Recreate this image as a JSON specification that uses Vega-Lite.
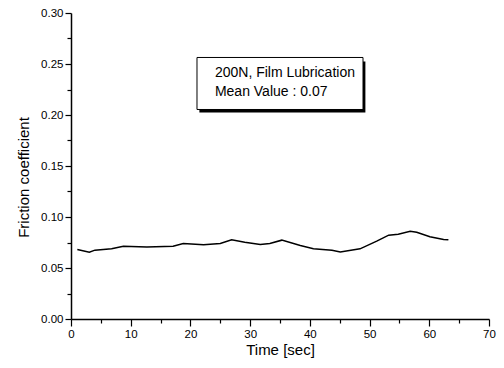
{
  "$schema": "https://vega.github.io/schema/vega-lite/v6.json",
  "width": 418,
  "height": 306,
  "autosize": {"type": "none"},
  "padding": {"left": 71, "top": 13, "right": 15, "bottom": 49},
  "background": "white",
  "config": {
    "view": {"stroke": null},
    "font": "Liberation Sans",
    "axis": {"grid": false, "domainColor": "black", "tickColor": "black", "labelColor": "black", "titleColor": "black", "domainWidth": 1.5, "tickWidth": 1.2}
  },
  "datasets": {
    "curve": [
      {"t": 1.06, "f": 0.0681}, {"t": 3.07, "f": 0.0655}, {"t": 4.0, "f": 0.0675},
      {"t": 6.8, "f": 0.0688}, {"t": 8.77, "f": 0.0714}, {"t": 12.7, "f": 0.0707},
      {"t": 17.1, "f": 0.0714}, {"t": 18.8, "f": 0.074}, {"t": 22.2, "f": 0.0727},
      {"t": 25.0, "f": 0.074}, {"t": 26.9, "f": 0.0776}, {"t": 29.1, "f": 0.0753},
      {"t": 31.7, "f": 0.073}, {"t": 33.3, "f": 0.074}, {"t": 35.3, "f": 0.0773},
      {"t": 38.4, "f": 0.072}, {"t": 40.6, "f": 0.0688}, {"t": 43.7, "f": 0.0675},
      {"t": 45.1, "f": 0.0658}, {"t": 48.4, "f": 0.0688}, {"t": 51.2, "f": 0.0763},
      {"t": 53.2, "f": 0.0822}, {"t": 54.8, "f": 0.0832}, {"t": 56.8, "f": 0.0861},
      {"t": 57.9, "f": 0.0851}, {"t": 60.1, "f": 0.0806}, {"t": 62.4, "f": 0.078},
      {"t": 63.2, "f": 0.0776}
    ],
    "box": [{"x1": 21.1, "x2": 48.9, "y1": 0.2564, "y2": 0.2054}],
    "shadow": [{"x1": 21.5, "x2": 49.3, "y1": 0.2524, "y2": 0.2024}],
    "labels": [
      {"x": 24.1, "y": 0.2368, "text": "200N, Film Lubrication"},
      {"x": 24.1, "y": 0.219, "text": "Mean Value : 0.07"}
    ]
  },
  "layer": [
    {
      "data": {"name": "curve"},
      "mark": {"type": "line", "color": "black", "strokeWidth": 1.5},
      "encoding": {
        "x": {"field": "t", "type": "quantitative", "scale": {"domain": [0, 70], "nice": false, "zero": false},
              "axis": {"orient": "bottom", "values": [0, 10, 20, 30, 40, 50, 60, 70], "title": "Time [sec]", "titleFontSize": 15, "titleFontWeight": "normal", "titlePadding": 3, "labelFontSize": 11.5, "tickSize": 7, "labelPadding": 2, "labelFlush": false}},
        "y": {"field": "f", "type": "quantitative", "scale": {"domain": [0, 0.3], "nice": false},
              "axis": {"orient": "left", "values": [0, 0.05, 0.1, 0.15, 0.2, 0.25, 0.3], "format": ".2f", "title": "Friction coefficient", "titleFontSize": 15, "titleFontWeight": "normal", "titlePadding": 9, "labelFontSize": 11.5, "tickSize": 6, "labelPadding": 2, "titleY": 164}}
      }
    },
    {
      "data": {"name": "shadow"},
      "mark": {"type": "rect", "fill": "black"},
      "encoding": {
        "x": {"field": "x1", "type": "quantitative",
              "axis": {"orient": "bottom", "values": [5, 15, 25, 35, 45, 55, 65], "labels": false, "domain": false, "tickSize": 4, "title": null}},
        "x2": {"field": "x2"},
        "y": {"field": "y1", "type": "quantitative",
              "axis": {"orient": "left", "values": [0.025, 0.075, 0.125, 0.175, 0.225, 0.275], "labels": false, "domain": false, "tickSize": 4, "title": null}},
        "y2": {"field": "y2"}
      }
    },
    {
      "data": {"name": "box"},
      "mark": {"type": "rect", "fill": "white", "stroke": "black", "strokeWidth": 1},
      "encoding": {
        "x": {"field": "x1", "type": "quantitative", "axis": null},
        "x2": {"field": "x2"},
        "y": {"field": "y1", "type": "quantitative", "axis": null},
        "y2": {"field": "y2"}
      }
    },
    {
      "data": {"name": "labels"},
      "mark": {"type": "text", "align": "left", "baseline": "alphabetic", "fontSize": 14, "color": "black"},
      "encoding": {
        "x": {"field": "x", "type": "quantitative", "axis": null},
        "y": {"field": "y", "type": "quantitative", "axis": null},
        "text": {"field": "text"}
      }
    }
  ],
  "resolve": {"axis": {"x": "independent", "y": "independent"}}
}
